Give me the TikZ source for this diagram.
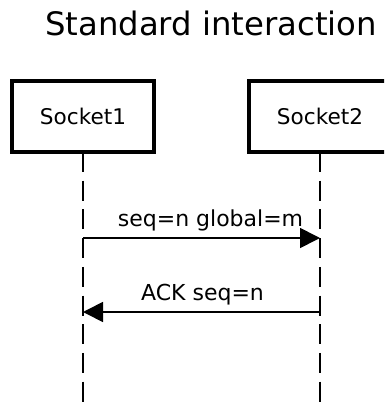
\documentclass[tikz,border=0pt]{standalone}
\usepackage{fontspec}
\setmainfont{DejaVu Sans}
\usetikzlibrary{arrows.meta}
\tikzset{
  actor/.style={draw, line width=3.5pt, fill=white, minimum width=142pt,
    minimum height=71pt, inner sep=0pt, outer sep=0pt,
    font=\fontsize{21.6}{26}\selectfont},
  lifeline/.style={line width=2pt, dash pattern=on 20pt off 8.7pt},
  message/.style={line width=1.7pt, -{Triangle[length=20pt,width=20pt]}},
  msglabel/.style={anchor=base, inner sep=0pt, font=\fontsize{22}{26}\selectfont},
  heading/.style={anchor=base, inner sep=0pt, font=\fontsize{32.3}{38}\selectfont}
}
\begin{document}
\begin{tikzpicture}[x=1pt, y=-1pt]
  \useasboundingbox (0,0) rectangle (384,403);
  \clip (0,0) rectangle (384,403);

  % title
  \node[heading] (title) at (211,36) {Standard interaction};

  % participants
  \node[actor] (s1) at (83,116.5) {Socket1};
  \node[actor] (s2) at (320,116.5) {Socket2};

  % lifelines
  \coordinate (e1) at (83,403);
  \coordinate (e2) at (320,403);
  \draw[lifeline] (s1.south) -- (e1);
  \draw[lifeline] (s2.south) -- (e2);

  % messages
  \coordinate (m1a) at (83,238);
  \coordinate (m1b) at (320,238);
  \coordinate (m2a) at (320,312);
  \coordinate (m2b) at (83,312);
  \draw[message] (m1a) -- (m1b);
  \draw[message] (m2a) -- (m2b);
  \node[msglabel] (l1) at (210.5,226.5) {seq=n global=m};
  \node[msglabel] (l2) at (202.5,300) {ACK seq=n};
\end{tikzpicture}
\end{document}
